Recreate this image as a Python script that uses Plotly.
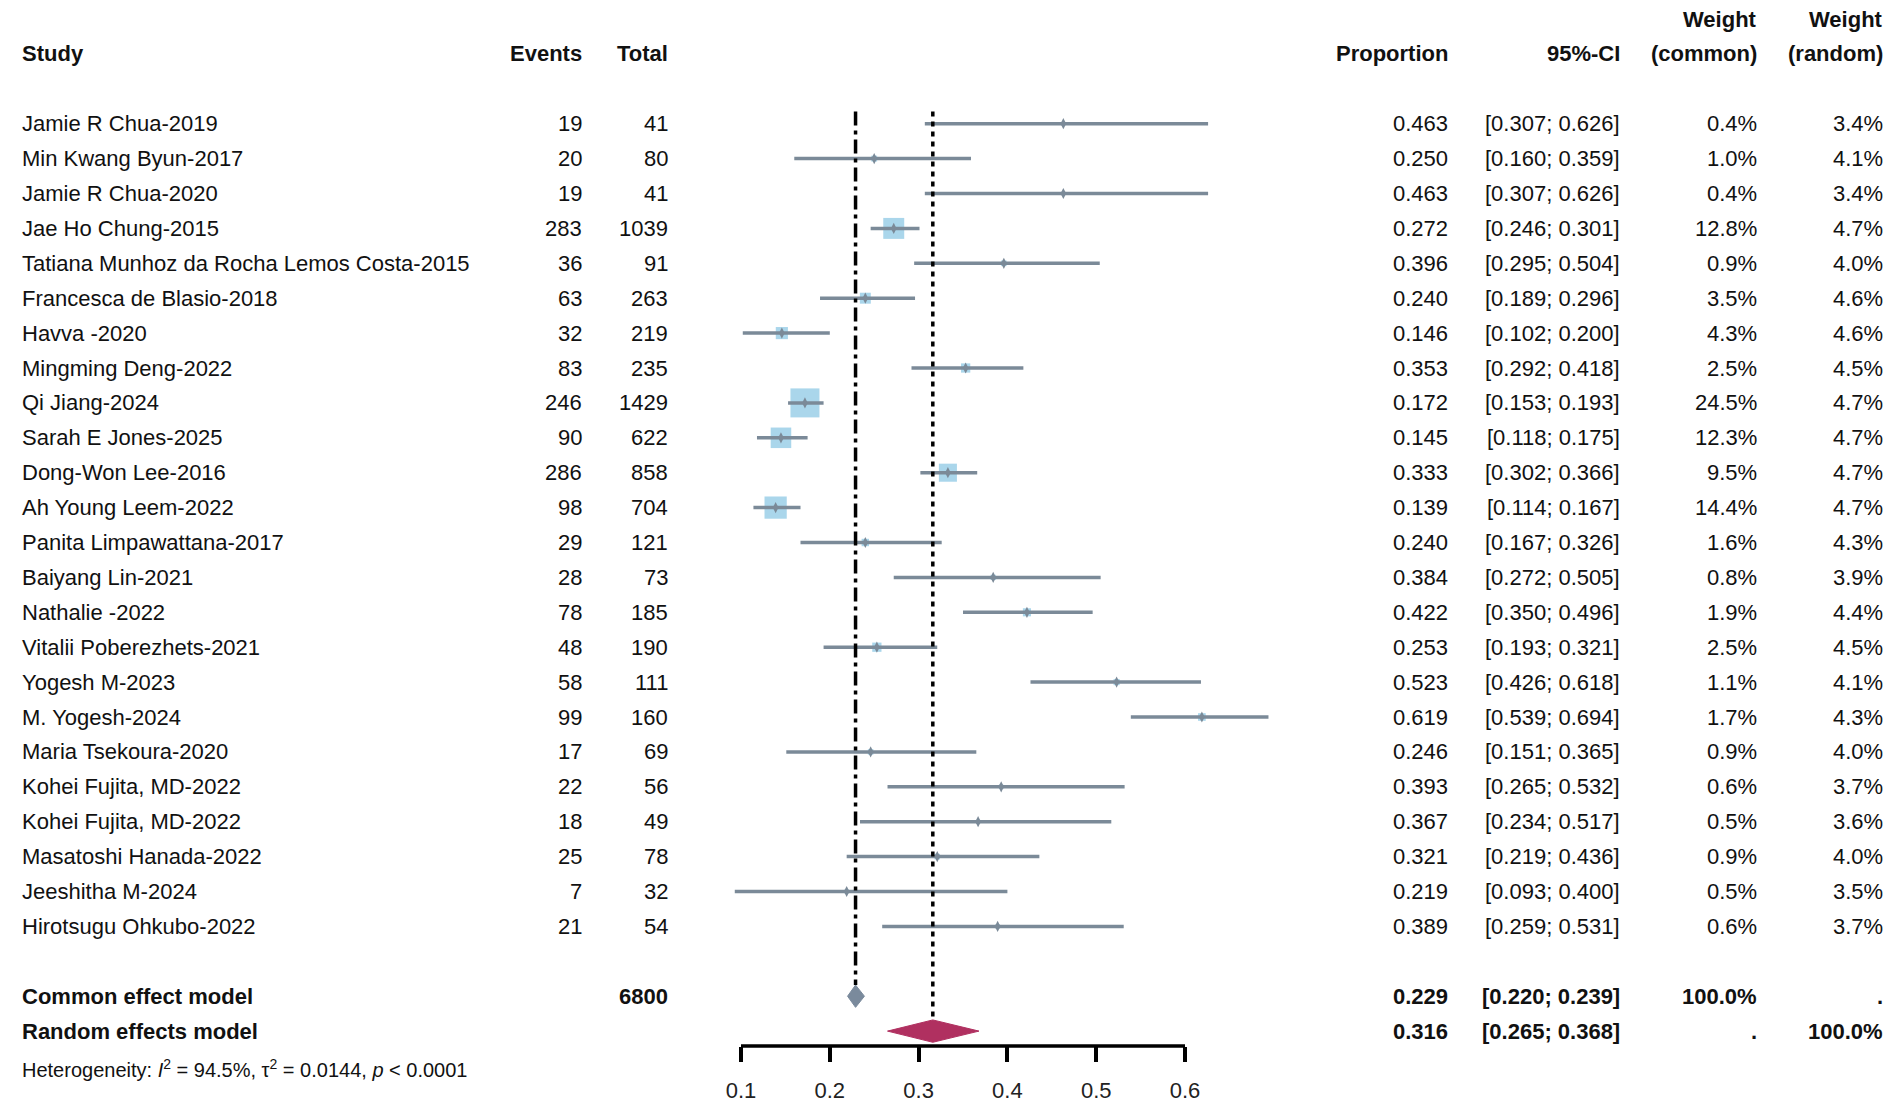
import plotly.graph_objects as go

# --- Data ---
studies = [
    "Jamie R Chua-2019", "Min Kwang Byun-2017", "Jamie R Chua-2020", "Jae Ho Chung-2015",
    "Tatiana Munhoz da Rocha Lemos Costa-2015", "Francesca de Blasio-2018", "Havva -2020",
    "Mingming Deng-2022", "Qi Jiang-2024", "Sarah E Jones-2025", "Dong-Won Lee-2016",
    "Ah Young Leem-2022", "Panita Limpawattana-2017", "Baiyang Lin-2021", "Nathalie -2022",
    "Vitalii Poberezhets-2021", "Yogesh M-2023", "M. Yogesh-2024", "Maria Tsekoura-2020",
    "Kohei Fujita, MD-2022", "Kohei Fujita, MD-2022", "Masatoshi Hanada-2022",
    "Jeeshitha M-2024", "Hirotsugu Ohkubo-2022",
]
events = [19, 20, 19, 283, 36, 63, 32, 83, 246, 90, 286, 98, 29, 28, 78, 48, 58, 99, 17, 22, 18, 25, 7, 21]
totals = [41, 80, 41, 1039, 91, 263, 219, 235, 1429, 622, 858, 704, 121, 73, 185, 190, 111, 160, 69, 56, 49, 78, 32, 54]
proportion = [0.463, 0.250, 0.463, 0.272, 0.396, 0.240, 0.146, 0.353, 0.172, 0.145, 0.333, 0.139,
              0.240, 0.384, 0.422, 0.253, 0.523, 0.619, 0.246, 0.393, 0.367, 0.321, 0.219, 0.389]
ci_low = [0.307, 0.160, 0.307, 0.246, 0.295, 0.189, 0.102, 0.292, 0.153, 0.118, 0.302, 0.114,
          0.167, 0.272, 0.350, 0.193, 0.426, 0.539, 0.151, 0.265, 0.234, 0.219, 0.093, 0.259]
ci_high = [0.626, 0.359, 0.626, 0.301, 0.504, 0.296, 0.200, 0.418, 0.193, 0.175, 0.366, 0.167,
           0.326, 0.505, 0.496, 0.321, 0.618, 0.694, 0.365, 0.532, 0.517, 0.436, 0.400, 0.531]
weight_common = [0.4, 1.0, 0.4, 12.8, 0.9, 3.5, 4.3, 2.5, 24.5, 12.3, 9.5, 14.4,
                 1.6, 0.8, 1.9, 2.5, 1.1, 1.7, 0.9, 0.6, 0.5, 0.9, 0.5, 0.6]
weight_random = [3.4, 4.1, 3.4, 4.7, 4.0, 4.6, 4.6, 4.5, 4.7, 4.7, 4.7, 4.7,
                 4.3, 3.9, 4.4, 4.5, 4.1, 4.3, 4.0, 3.7, 3.6, 4.0, 3.5, 3.7]

common_total = 6800
common_est, common_low, common_high = 0.229, 0.220, 0.239
random_est, random_low, random_high = 0.316, 0.265, 0.368
heterogeneity = "Heterogeneity: <i>I</i><sup>2</sup> = 94.5%, τ<sup>2</sup> = 0.0144, <i>p</i> &lt; 0.0001"
axis_ticks = [0.1, 0.2, 0.3, 0.4, 0.5, 0.6]

# --- Page geometry (pixel positions measured on the reference page) ---
PAGE_W, PAGE_H = 1901, 1114
BODY = 8                               # default body margin of the html page
W, H = PAGE_W - 2 * BODY, PAGE_H - 2 * BODY
X0_PX, PX_PER_UNIT = 741 - BODY, 888   # where 0.1 sits, and pixels per unit of proportion
ROW0_PX, ROW_PX = 123.7 - BODY, 34.9   # first study row, row spacing
AXIS_PX = 1046 - BODY
FONT = "Liberation Sans, Arial, sans-serif"
FS = 22

n = len(studies)
rows = list(range(n))
row_common, row_random = n + 1, n + 2
row_het = n + 3.06
row_axis = (AXIS_PX - ROW0_PX) / ROW_PX

x_min = 0.1 - X0_PX / PX_PER_UNIT
x_max = 0.1 + (W - X0_PX) / PX_PER_UNIT
y_top = -ROW0_PX / ROW_PX
y_bottom = (H - ROW0_PX) / ROW_PX

LINE_COL = "#7b8a98"
SQUARE_COL = "#86c4e3"
COMMON_COL = "#7a8a9c"
RANDOM_COL = "#b03060"

fig = go.Figure()

# squares, area proportional to common-effect weight
max_w = max(weight_common)
fig.add_trace(go.Scatter(
    x=proportion, y=rows, mode="markers",
    marker=dict(symbol="square", color=SQUARE_COL, line=dict(width=0),
                size=[29 * (w / max_w) ** 0.5 for w in weight_common]),
    hoverinfo="skip", showlegend=False,
))

# confidence interval lines
ci_x, ci_y = [], []
for lo, hi, r in zip(ci_low, ci_high, rows):
    ci_x += [lo, hi, None]
    ci_y += [r, r, None]
fig.add_trace(go.Scatter(x=ci_x, y=ci_y, mode="lines", line=dict(color=LINE_COL, width=3.5),
                         hoverinfo="skip", showlegend=False))

# point estimate tick
fig.add_trace(go.Scatter(
    x=proportion, y=rows, mode="markers",
    marker=dict(symbol="diamond-tall", size=8, color=LINE_COL, line=dict(width=0)),
    hoverinfo="skip", showlegend=False,
))

# summary reference lines
half_h = 0.32
fig.add_trace(go.Scatter(x=[common_est, common_est], y=[-0.35, row_common - half_h], mode="lines",
                         line=dict(color="black", width=3.5, dash="14px,5px,4px,5px"),
                         hoverinfo="skip", showlegend=False))
fig.add_trace(go.Scatter(x=[random_est, random_est], y=[-0.35, row_random - half_h], mode="lines",
                         line=dict(color="black", width=3.5, dash="5px,5px"),
                         hoverinfo="skip", showlegend=False))

# summary diamonds
for est, lo, hi, r, col in [(common_est, common_low, common_high, row_common, COMMON_COL),
                            (random_est, random_low, random_high, row_random, RANDOM_COL)]:
    fig.add_trace(go.Scatter(
        x=[lo, est, hi, est, lo], y=[r, r - half_h, r, r + half_h, r],
        mode="lines", fill="toself", fillcolor=col, line=dict(color=col, width=1),
        hoverinfo="skip", showlegend=False,
    ))


# --- Table text ---
def px(xp):
    return (xp - BODY) / W


def add_text(text, xp, row, anchor="right", bold=False, size=FS):
    fig.add_annotation(
        text=f"<b>{text}</b>" if bold else text,
        x=px(xp), xref="paper", y=row, yref="y",
        xanchor=anchor, yanchor="middle", showarrow=False,
        font=dict(family=FONT, size=size, color="#111111"),
    )


COL_STUDY, COL_EVENTS, COL_TOTAL = 20, 584, 670
COL_PROP, COL_CI, COL_WC, COL_WR = 1450, 1622, 1759, 1885

add_text("Study", COL_STUDY, -2, anchor="left", bold=True)
add_text("Events", COL_EVENTS, -2, bold=True)
add_text("Total", COL_TOTAL, -2, bold=True)
add_text("Proportion", COL_PROP, -2, bold=True)
add_text("95%-CI", COL_CI, -2, bold=True)
add_text("Weight", COL_WC, -3, bold=True)
add_text("(common)", COL_WC, -2, bold=True)
add_text("Weight", COL_WR, -3, bold=True)
add_text("(random)", COL_WR, -2, bold=True)

for i in rows:
    add_text(studies[i], COL_STUDY, i, anchor="left")
    add_text(str(events[i]), COL_EVENTS, i)
    add_text(str(totals[i]), COL_TOTAL, i)
    add_text(f"{proportion[i]:.3f}", COL_PROP, i)
    add_text(f"[{ci_low[i]:.3f}; {ci_high[i]:.3f}]", COL_CI, i)
    add_text(f"{weight_common[i]:.1f}%", COL_WC, i)
    add_text(f"{weight_random[i]:.1f}%", COL_WR, i)

add_text("Common effect model", COL_STUDY, row_common, anchor="left", bold=True)
add_text(str(common_total), COL_TOTAL, row_common, bold=True)
add_text(f"{common_est:.3f}", COL_PROP, row_common, bold=True)
add_text(f"[{common_low:.3f}; {common_high:.3f}]", COL_CI, row_common, bold=True)
add_text("100.0%", COL_WC, row_common, bold=True)
add_text(".", COL_WR, row_common, bold=True)

add_text("Random effects model", COL_STUDY, row_random, anchor="left", bold=True)
add_text(f"{random_est:.3f}", COL_PROP, row_random, bold=True)
add_text(f"[{random_low:.3f}; {random_high:.3f}]", COL_CI, row_random, bold=True)
add_text(".", COL_WC, row_random, bold=True)
add_text("100.0%", COL_WR, row_random, bold=True)

add_text(heterogeneity, COL_STUDY, row_het, anchor="left", size=20)

# x axis line between first and last tick
fig.add_shape(type="line", x0=axis_ticks[0], x1=axis_ticks[-1], xref="x",
              y0=row_axis, y1=row_axis, yref="y", line=dict(color="black", width=3.5))

fig.update_layout(
    width=W, height=H,
    margin=dict(l=0, r=0, t=0, b=0),
    plot_bgcolor="white", paper_bgcolor="white",
    xaxis=dict(
        range=[x_min, x_max], domain=[0, 1], anchor="free", position=1 - AXIS_PX / H,
        showgrid=False, zeroline=False, showline=False,
        tickmode="array", tickvals=axis_ticks, ticktext=[f"{t:.1f}" for t in axis_ticks],
        ticks="outside", ticklen=15, tickwidth=3.5, tickcolor="black",
        ticklabelstandoff=10,
        tickfont=dict(family=FONT, size=22, color="#222222"),
    ),
    yaxis=dict(range=[y_bottom, y_top], domain=[0, 1], visible=False, showgrid=False, zeroline=False),
)

fig.write_html("out.html")
